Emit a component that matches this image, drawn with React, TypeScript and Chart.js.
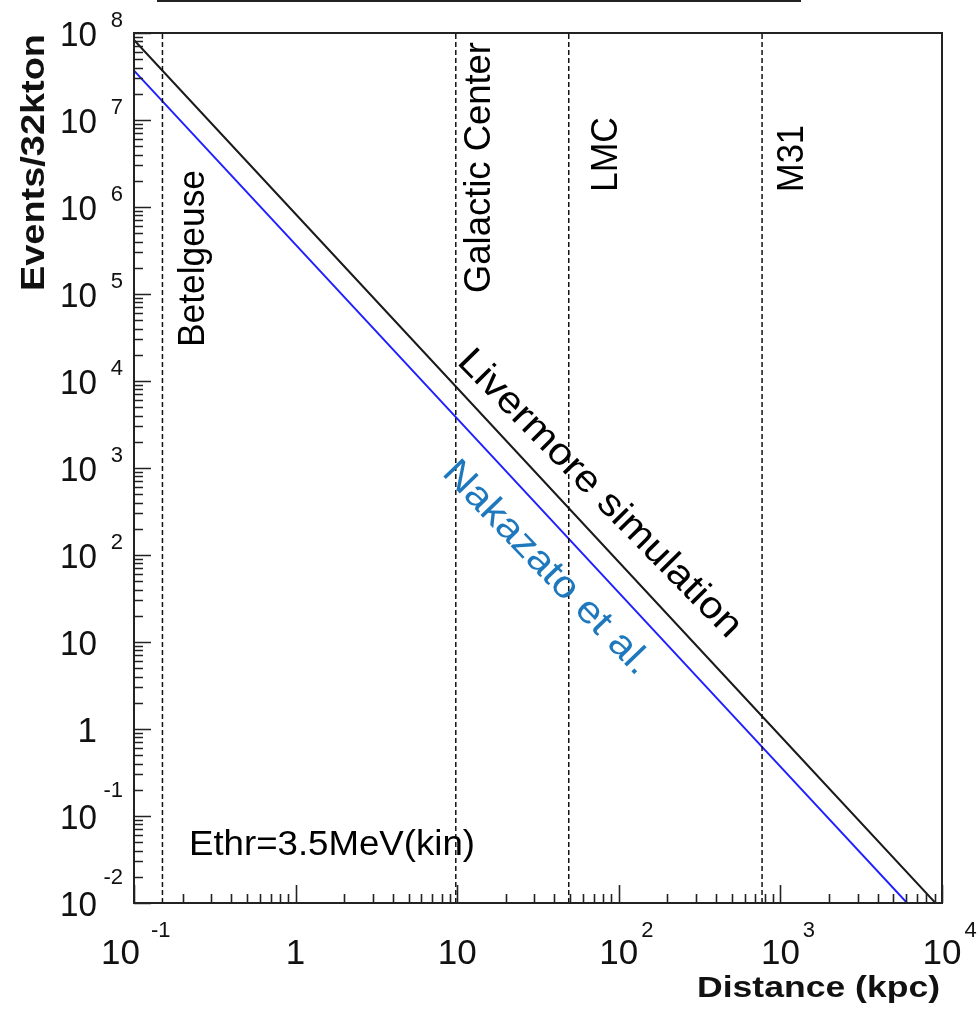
import { useEffect, useRef } from 'react';
import { Chart, registerables } from 'chart.js';

Chart.register(...registerables);

// Expected event counts in a 32 kton detector vs. supernova distance (kpc)
const distances = [0.1, 1, 10, 100, 1000, 10000];
const livermoreEvents = [8.3e7, 8.3e5, 8.3e3, 83, 0.83, 0.0083];
const nakazatoEvents = [3.7e7, 3.7e5, 3.7e3, 37, 0.37, 0.0037];

// Reference sources marked with vertical dashed lines
const sourceNames = ['Betelgeuse', 'Galactic Center', 'LMC', 'M31'];
const sourceDistances = [0.15, 9.8, 49, 770];

// Axis ranges and decade ticks (powers of ten)
const xRange = [0.1, 1e4];
const yRange = [0.01, 1e8];
const xTickExponents = [-1, 0, 1, 2, 3, 4];
const yTickExponents = [-2, -1, 0, 1, 2, 3, 4, 5, 6, 7, 8];

const FONT = '"Liberation Sans", Arial, Helvetica, sans-serif';
const AXIS_COLOR = '#222';

type TextOpts = {
  size: number;
  bold?: boolean;
  angle?: number;
  width?: number;
  align?: 'left' | 'center' | 'right';
  color?: string;
};

function drawText(ctx: CanvasRenderingContext2D, text: string, x: number, y: number, o: TextOpts) {
  ctx.save();
  ctx.font = `${o.bold ? 'bold ' : ''}${o.size}px ${FONT}`;
  ctx.fillStyle = o.color || '#000';
  ctx.textBaseline = 'alphabetic';
  ctx.textAlign = 'left';
  ctx.translate(x, y);
  ctx.rotate(((o.angle || 0) * Math.PI) / 180);
  const w = ctx.measureText(text).width;
  const sx = o.width ? o.width / w : 1;
  let dx = 0;
  if (o.align === 'center') dx = -w / 2;
  else if (o.align === 'right') dx = -w;
  ctx.scale(sx, 1);
  ctx.fillText(text, dx, 0);
  ctx.restore();
  return w * sx;
}

function textWidth(ctx: CanvasRenderingContext2D, text: string, size: number, bold = false) {
  ctx.save();
  ctx.font = `${bold ? 'bold ' : ''}${size}px ${FONT}`;
  const w = ctx.measureText(text).width;
  ctx.restore();
  return w;
}

// Frame, inward ticks, power-of-ten labels, annotations
const decorations = {
  id: 'decorations',
  afterDatasetsDraw(chart: Chart) {
    const ctx = chart.ctx;
    const { left, right, top, bottom } = chart.chartArea;
    const xs = chart.scales.x;
    const ys = chart.scales.y;

    ctx.save();
    // line above the plot
    ctx.fillStyle = AXIS_COLOR;
    ctx.fillRect(157, 0, 644, 2);

    // frame
    ctx.strokeStyle = AXIS_COLOR;
    ctx.lineWidth = 2;
    ctx.strokeRect(left, top, right - left, bottom - top);

    // ticks
    ctx.lineWidth = 1.6;
    ctx.beginPath();
    for (let e = Math.log10(yRange[0]); e <= Math.log10(yRange[1]); e++) {
      for (let k = 1; k <= 9; k++) {
        const v = k * Math.pow(10, e);
        if (v > yRange[1] * 1.0001) break;
        const py = Math.round(ys.getPixelForValue(v)) + 0.5;
        const len = k === 1 ? 17 : 9;
        ctx.moveTo(left, py);
        ctx.lineTo(left + len, py);
      }
    }
    for (let e = Math.log10(xRange[0]); e <= Math.log10(xRange[1]); e++) {
      for (let k = 1; k <= 9; k++) {
        const v = k * Math.pow(10, e);
        if (v > xRange[1] * 1.0001) break;
        const px = Math.round(xs.getPixelForValue(v)) + 0.5;
        const len = k === 1 ? 18 : 9;
        ctx.moveTo(px, bottom);
        ctx.lineTo(px, bottom - len);
      }
    }
    ctx.stroke();
    ctx.restore();

    const tickColor = '#111';

    // y tick labels
    yTickExponents.forEach((e) => {
      const py = ys.getPixelForValue(Math.pow(10, e));
      if (e === 0) {
        drawText(ctx, '1', 97, py + 12.5, { size: 35, align: 'right', color: tickColor });
      } else {
        drawText(ctx, '10', 97, py + 12.5, { size: 35, align: 'right', width: 37, color: tickColor });
        if (e !== 1) {
          drawText(ctx, String(e), 123, e < 0 ? py - 19 : py - 6, { size: 22, align: 'right', color: tickColor });
        }
      }
    });

    // x tick labels
    const xBase = 964;
    xTickExponents.forEach((e) => {
      const px = xs.getPixelForValue(Math.pow(10, e));
      if (e === 0) {
        drawText(ctx, '1', px, xBase, { size: 35, align: 'center', color: tickColor });
      } else if (e === 1) {
        drawText(ctx, '10', px, xBase, { size: 35, align: 'center', color: tickColor });
      } else {
        const shift = e < 0 ? -13.5 : 0;
        drawText(ctx, '10', px + shift, xBase, { size: 35, align: 'center', color: tickColor });
        const half = textWidth(ctx, '10', 35) / 2;
        drawText(ctx, String(e), px + shift + half + (e < 0 ? 11 : 3), 937, { size: 22, color: tickColor });
      }
    });

    // axis titles
    drawText(ctx, 'Events/32kton', 44, 291, { size: 34, bold: true, angle: -90, width: 257, color: tickColor });
    drawText(ctx, 'Distance (kpc)', 940, 997, { size: 30, bold: true, align: 'right', width: 243, color: tickColor });

    // source names beside the dashed lines
    const nameLayout = [
      { dx: 42, y: 347, width: 177 },
      { dx: 34, y: 293, width: 251 },
      { dx: 48, y: 192, width: 75 },
      { dx: 41, y: 192, width: 67 },
    ];
    sourceNames.forEach((name, i) => {
      const px = xs.getPixelForValue(sourceDistances[i]);
      const l = nameLayout[i];
      drawText(ctx, name, px + l.dx, l.y, { size: 36, angle: -90, width: l.width });
    });

    // curve labels
    drawText(ctx, 'Livermore simulation', 456, 363, { size: 38, angle: 45.5, width: 388 });
    drawText(ctx, 'Nakazato et al.', 441, 474, { size: 38, angle: 46, width: 282, color: '#1e78be' });

    // threshold note
    drawText(ctx, 'Ethr=3.5MeV(kin)', 189, 855, { size: 35, width: 286 });
  },
};

export default function App() {
  const canvasRef = useRef<HTMLCanvasElement | null>(null);

  useEffect(() => {
    const canvas = canvasRef.current;
    if (!canvas) return;

    const sourceSets = sourceDistances.map((d, i) => ({
      label: sourceNames[i],
      data: [
        { x: d, y: yRange[0] },
        { x: d, y: yRange[1] },
      ],
      borderColor: '#111',
      borderWidth: 1.5,
      borderDash: [5, 3],
      pointRadius: 0,
      fill: false,
    }));

    const chart = new Chart(canvas, {
      type: 'line',
      data: {
        datasets: [
          ...sourceSets,
          {
            label: 'Livermore simulation',
            data: distances.map((d, i) => ({ x: d, y: livermoreEvents[i] })),
            borderColor: '#1a1a1a',
            borderWidth: 2,
            pointRadius: 0,
            fill: false,
          },
          {
            label: 'Nakazato et al.',
            data: distances.map((d, i) => ({ x: d, y: nakazatoEvents[i] })),
            borderColor: '#2020ff',
            borderWidth: 2,
            pointRadius: 0,
            fill: false,
          },
        ],
      },
      options: {
        responsive: false,
        animation: false,
        layout: { padding: { left: 134, top: 33, right: 36, bottom: 107 } },
        scales: {
          x: { type: 'logarithmic', min: xRange[0], max: xRange[1], display: false },
          y: { type: 'logarithmic', min: yRange[0], max: yRange[1], display: false },
        },
        plugins: {
          legend: { display: false },
          tooltip: { enabled: false },
        },
      },
      plugins: [decorations],
    });

    return () => chart.destroy();
  }, []);

  return (
    <div style={{ position: 'fixed', left: 0, top: 0, width: 978, height: 1010, background: '#fff' }}>
      <canvas ref={canvasRef} width={978} height={1010} />
    </div>
  );
}
